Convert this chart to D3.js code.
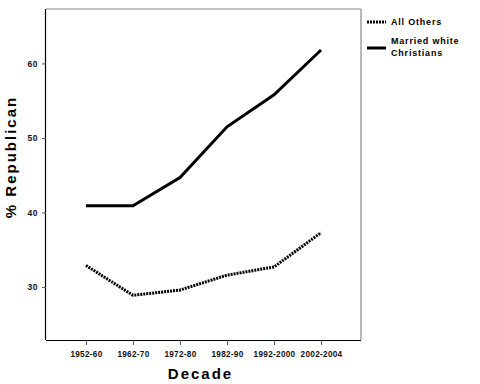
<!DOCTYPE html>
<html>
<head>
<meta charset="utf-8">
<script src="https://cdn.jsdelivr.net/npm/d3@7"></script>
<style>
  body { margin: 0; background: #fff; }
  text { font-family: "Liberation Sans", Arial, sans-serif; font-weight: bold; }
</style>
</head>
<body>
<div id="chart"></div>
<script>
var width = 480;
var height = 384;
var margin = {top: 9, right: 119, bottom: 44, left: 46};

var decades = ["1952-60", "1962-70", "1972-80", "1982-90", "1992-2000", "2002-2004"];
var allOthers = [32.9, 28.9, 29.6, 31.6, 32.7, 37.3];
var marriedWhiteChristians = [40.9, 40.9, 44.7, 51.5, 55.8, 61.8];
var yTicks = [30, 40, 50, 60];

var svg = d3.select("#chart")
    .append("svg")
    .attr("width", width)
    .attr("height", height);

var w = width - margin.left - margin.right;
var h = height - margin.top - margin.bottom;

var g = svg.append("g").attr("transform", "translate(" + margin.left + "," + margin.top + ")");

var x = d3.scalePoint()
    .domain(decades)
    .range([0, w])
    .padding(0.85);

var y = d3.scaleLinear()
    .domain([22.9, 67.3])
    .range([h, 0]);

// frame: top & right grey
g.append("line").attr("x1", 0).attr("x2", w).attr("y1", 0).attr("y2", 0)
    .attr("stroke", "#888").attr("stroke-width", 1.2);
g.append("line").attr("x1", w).attr("x2", w).attr("y1", 0).attr("y2", h)
    .attr("stroke", "#888").attr("stroke-width", 1.2);

var xAxis = g.append("g")
    .attr("transform", "translate(0," + h + ")")
    .call(d3.axisBottom(x).tickSizeOuter(0).tickSize(5).tickPadding(6));

var yAxis = g.append("g")
    .call(d3.axisLeft(y).tickValues(yTicks).tickSizeOuter(0).tickSize(4).tickPadding(4));

xAxis.select(".domain").attr("stroke", "#000").attr("stroke-width", 1.2).attr("d", "M0,0.5H" + w);
yAxis.select(".domain").attr("stroke", "#000").attr("stroke-width", 1.2).attr("d", "M-0.5," + h + "V0");
xAxis.selectAll(".tick line").attr("stroke", "#555");
yAxis.selectAll(".tick line").attr("stroke", "#555");
xAxis.selectAll("text")
    .style("font-size", "8.2px").style("letter-spacing", "0.3px")
    .attr("fill", "#111");
yAxis.selectAll("text")
    .style("font-size", "8.5px").style("letter-spacing", "0.5px")
    .attr("fill", "#111");

var line = d3.line()
    .x(function(d, i) { return x(decades[i]); })
    .y(function(d) { return y(d); });

g.append("path")
    .datum(marriedWhiteChristians)
    .attr("fill", "none")
    .attr("stroke", "#000")
    .attr("stroke-width", 3)
    .attr("d", line);

g.append("path")
    .datum(allOthers)
    .attr("fill", "none")
    .attr("stroke", "#000")
    .attr("stroke-width", 3)
    .attr("stroke-dasharray", "2,1")
    .attr("d", line);

// axis titles
svg.append("text")
    .attr("x", margin.left + w / 2 - 3)
    .attr("y", 379)
    .attr("text-anchor", "middle")
    .style("font-size", "15px")
    .style("letter-spacing", "2px")
    .text("Decade");

svg.append("text")
    .attr("transform", "translate(16,157) rotate(-90)")
    .attr("text-anchor", "middle")
    .style("font-size", "15px")
    .style("letter-spacing", "2px")
    .text("% Republican");

// legend
var legend = svg.append("g").attr("transform", "translate(367,0)");
legend.append("line")
    .attr("x1", 0).attr("x2", 19).attr("y1", 22).attr("y2", 22)
    .attr("stroke", "#000").attr("stroke-width", 3).attr("stroke-dasharray", "2,1");
legend.append("text")
    .attr("x", 24).attr("y", 25)
    .style("font-size", "9px").style("letter-spacing", "0.8px")
    .text("All Others");
legend.append("line")
    .attr("x1", 0).attr("x2", 19).attr("y1", 48).attr("y2", 48)
    .attr("stroke", "#000").attr("stroke-width", 3);
legend.append("text")
    .attr("x", 24).attr("y", 44)
    .style("font-size", "9px").style("letter-spacing", "0.8px")
    .text("Married white");
legend.append("text")
    .attr("x", 24).attr("y", 56)
    .style("font-size", "9px").style("letter-spacing", "0.8px")
    .text("Christians");
</script>
</body>
</html>
